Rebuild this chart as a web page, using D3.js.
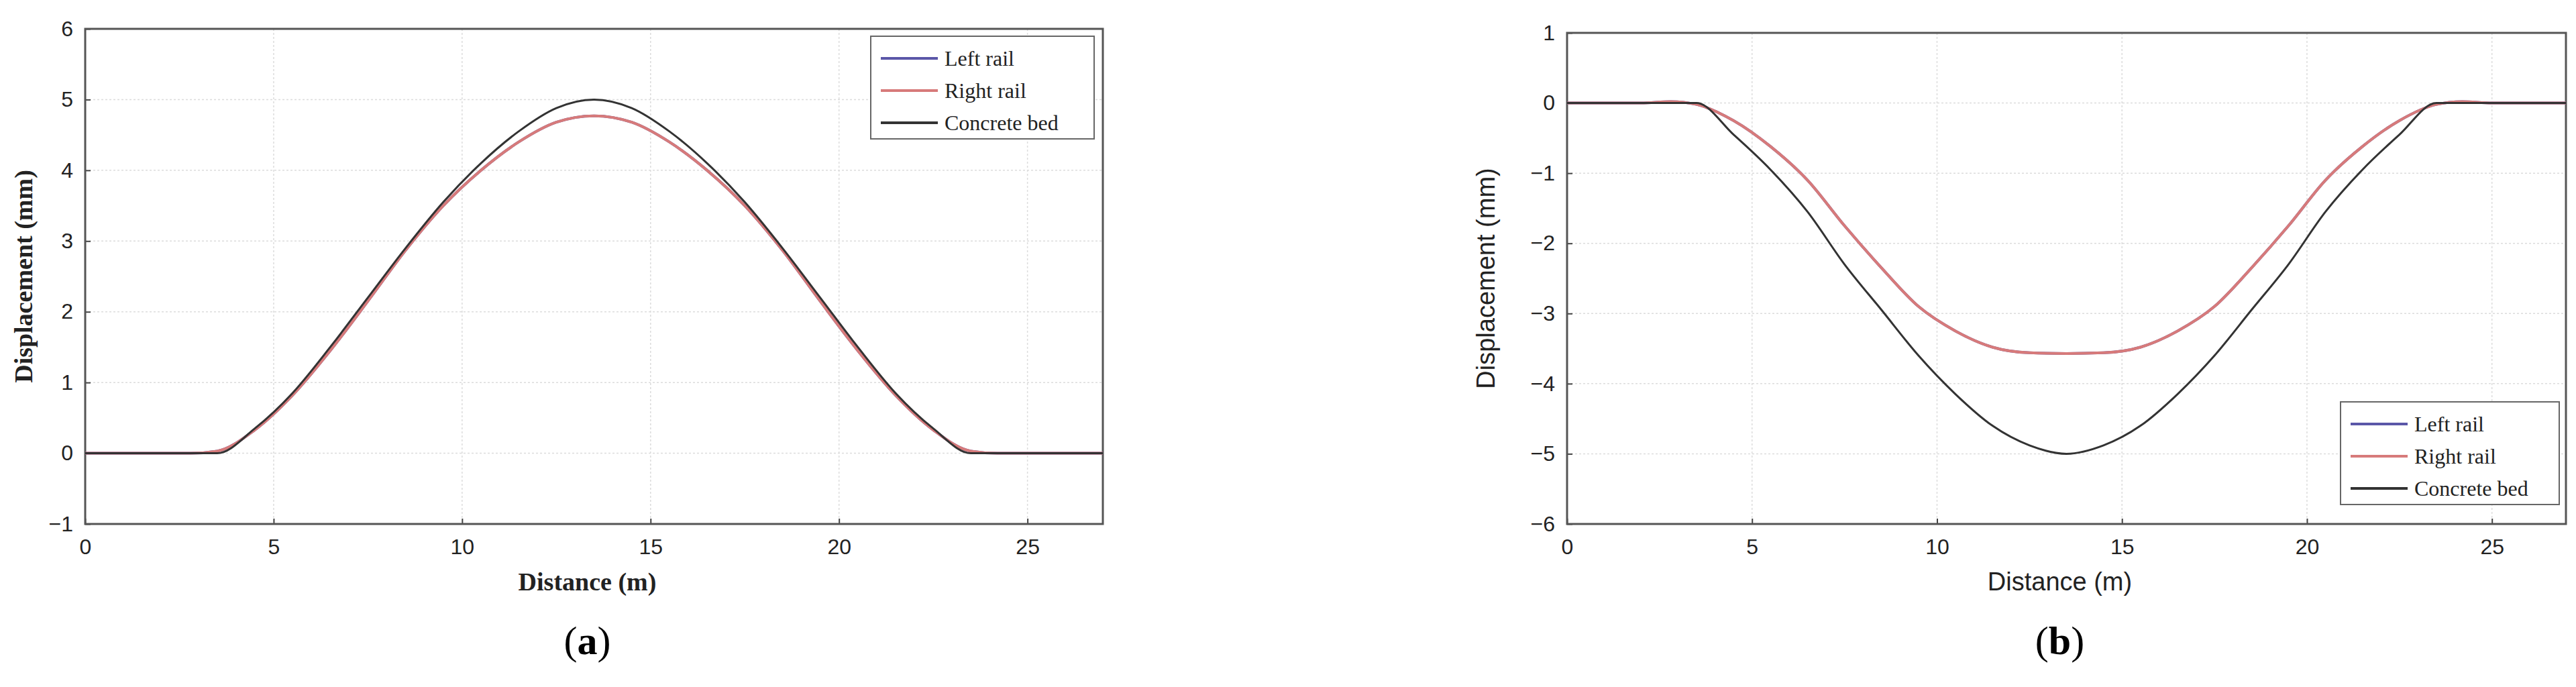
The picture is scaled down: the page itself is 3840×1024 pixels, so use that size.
<!DOCTYPE html>
<html>
<head>
<meta charset="utf-8">
<script src="https://cdn.jsdelivr.net/npm/d3@7"></script>
<style>
  body { margin: 0; background: #fff; }
  svg { display: block; }
</style>
</head>
<body>
<div id="chart"></div>
<script>
// distances (m)
const xBed = [0, 1, 2, 3, 3.5, 4.5, 5.5, 6.5, 7.5, 8.5, 9.5, 10.5, 11.5, 12.5, 13.5,
  14.5, 15.5, 16.5, 17.5, 18.5, 19.5, 20.5, 21.5, 22.5, 23.5, 24, 25, 26, 27];
const xRail = [0, 1, 2, 2.8, 3.5, 4.5, 5.5, 6.5, 7.5, 8.5, 9.5, 10.5, 11.5, 12.5, 13.5,
  14.5, 15.5, 16.5, 17.5, 18.5, 19.5, 20.5, 21.5, 22.5, 23.5, 24.2, 25, 26, 27];

// panel (a)
const bedA = [0, 0, 0, 0, 0, 0.35, 0.85, 1.5, 2.2, 2.9, 3.55, 4.1, 4.55, 4.88, 5.0,
  4.88, 4.55, 4.1, 3.55, 2.9, 2.2, 1.5, 0.85, 0.35, 0, 0, 0, 0, 0];
const leftA = [0, 0, 0, 0, 0.03, 0.33, 0.82, 1.45, 2.15, 2.87, 3.5, 4.0, 4.4, 4.68, 4.77,
  4.68, 4.4, 4.0, 3.5, 2.87, 2.15, 1.45, 0.82, 0.33, 0.03, 0, 0, 0, 0];
const rightA = [0, 0, 0, 0, 0.03, 0.33, 0.82, 1.45, 2.15, 2.87, 3.5, 4.0, 4.4, 4.68, 4.77,
  4.68, 4.4, 4.0, 3.5, 2.87, 2.15, 1.45, 0.82, 0.33, 0.03, 0, 0, 0, 0];

// panel (b)
const bedB = [0, 0, 0, 0, 0, -0.45, -0.95, -1.55, -2.3, -2.95, -3.6, -4.15, -4.6, -4.88, -5.0,
  -4.88, -4.6, -4.15, -3.6, -2.95, -2.3, -1.55, -0.95, -0.45, 0, 0, 0, 0, 0];
const leftB = [0, 0, 0, 0.02, -0.02, -0.25, -0.62, -1.1, -1.75, -2.35, -2.9, -3.25, -3.48, -3.56, -3.57,
  -3.56, -3.48, -3.25, -2.9, -2.35, -1.75, -1.1, -0.62, -0.25, -0.02, 0.02, 0, 0, 0];
const rightB = [0, 0, 0, 0.02, -0.02, -0.25, -0.62, -1.1, -1.75, -2.35, -2.9, -3.25, -3.48, -3.56, -3.57,
  -3.56, -3.48, -3.25, -2.9, -2.35, -1.75, -1.1, -0.62, -0.25, -0.02, 0.02, 0, 0, 0];

const xTicks = [0, 5, 10, 15, 20, 25];
const yTicksA = [-1, 0, 1, 2, 3, 4, 5, 6];
const yTicksB = [-6, -5, -4, -3, -2, -1, 0, 1];
const seriesNames = ["Left rail", "Right rail", "Concrete bed"];
const seriesColors = ["#5b57a8", "#d77a7a", "#333333"];

const svg = d3.select("#chart").append("svg")
  .attr("width", 3840).attr("height", 1024);

function drawPanel(p) {
  const x = d3.scaleLinear().domain([0, 27]).range([p.left, p.right]);
  const y = d3.scaleLinear().domain(p.yDomain).range([p.bottom, p.top]);
  const g = svg.append("g");

  // grid
  g.selectAll(".gx").data(xTicks.slice(1)).join("line")
    .attr("x1", d => x(d)).attr("x2", d => x(d))
    .attr("y1", p.top).attr("y2", p.bottom)
    .attr("stroke", "#dcdcdc").attr("stroke-width", 1.5).attr("stroke-dasharray", "3,3");
  g.selectAll(".gy").data(p.yTicks.slice(1, -1)).join("line")
    .attr("x1", p.left).attr("x2", p.right)
    .attr("y1", d => y(d)).attr("y2", d => y(d))
    .attr("stroke", "#dcdcdc").attr("stroke-width", 1.5).attr("stroke-dasharray", "3,3");

  // axes
  const ax = g.append("g").attr("transform", `translate(0,${p.bottom})`)
    .call(d3.axisBottom(x).tickValues(xTicks).tickSize(-8).tickPadding(22));
  const ay = g.append("g").attr("transform", `translate(${p.left},0)`)
    .call(d3.axisLeft(y).tickValues(p.yTicks).tickSize(-8).tickPadding(18).tickFormat(d3.format("")));
  [ax, ay].forEach(a => {
    a.select(".domain").remove();
    a.selectAll("line").attr("stroke", "#444").attr("stroke-width", 2);
    a.selectAll("text").attr("font-family", "Liberation Sans Narrow, Liberation Sans, sans-serif")
      .attr("font-size", 32).attr("fill", "#222");
  });

  // frame
  g.append("rect").attr("x", p.left).attr("y", p.top)
    .attr("width", p.right - p.left).attr("height", p.bottom - p.top)
    .attr("fill", "none").attr("stroke", "#555").attr("stroke-width", 3);

  // lines
  const line = d3.line().x(d => x(d[0])).y(d => y(d[1])).curve(d3.curveMonotoneX);
  const sets = [[xRail, p.left_], [xRail, p.right_], [xBed, p.bed]];
  sets.forEach((s, i) => {
    g.append("path").datum(s[0].map((v, k) => [v, s[1][k]]))
      .attr("fill", "none").attr("stroke", seriesColors[i])
      .attr("stroke-width", i === 2 ? 3 : 4).attr("d", line);
  });

  // legend
  const lg = g.append("g");
  lg.append("rect").attr("x", p.lg[0]).attr("y", p.lg[1]).attr("width", p.lg[2]).attr("height", p.lg[3])
    .attr("fill", "#fff").attr("stroke", "#666").attr("stroke-width", 2);
  seriesNames.forEach((n, i) => {
    const yy = p.lg[1] + 33 + i * 48;
    lg.append("line").attr("x1", p.lg[0] + 15).attr("x2", p.lg[0] + 100)
      .attr("y1", yy).attr("y2", yy).attr("stroke", seriesColors[i]).attr("stroke-width", 4);
    lg.append("text").attr("x", p.lg[0] + 110).attr("y", yy + 11)
      .attr("font-family", "Liberation Serif, serif").attr("font-size", 32).attr("fill", "#222").text(n);
  });

  // labels
  g.append("text").attr("x", (p.left + p.right) / 2 - 10).attr("y", 880)
    .attr("text-anchor", "middle").attr("font-family", p.labelFont)
    .attr("font-weight", p.labelWeight).attr("font-size", 38).attr("fill", "#222").text("Distance (m)");
  g.append("text").attr("transform", `translate(${p.yLabelX},${(p.top + p.bottom) / 2}) rotate(-90)`)
    .attr("text-anchor", "middle").attr("font-family", p.labelFont)
    .attr("font-weight", p.labelWeight).attr("font-size", 38).attr("fill", "#222").text("Displacement (mm)");

  const cap = g.append("text").attr("x", (p.left + p.right) / 2 - 10).attr("y", 975)
    .attr("text-anchor", "middle").attr("font-family", "Liberation Serif, serif")
    .attr("font-size", 60).attr("fill", "#000");
  cap.append("tspan").text("(");
  cap.append("tspan").attr("font-weight", "bold").text(p.caption);
  cap.append("tspan").text(")");
}

drawPanel({
  left: 127, right: 1644, top: 43, bottom: 781, yDomain: [-1, 6], yTicks: yTicksA,
  bed: bedA, left_: leftA, right_: rightA, lg: [1298, 54, 333, 153],
  labelFont: "Liberation Serif, serif", labelWeight: "bold", yLabelX: 48, caption: "a"
});
drawPanel({
  left: 2336, right: 3825, top: 49, bottom: 781, yDomain: [-6, 1], yTicks: yTicksB,
  bed: bedB, left_: leftB, right_: rightB, lg: [3489, 599, 326, 153],
  labelFont: "Liberation Sans, Arial, sans-serif", labelWeight: "normal", yLabelX: 2228, caption: "b"
});
</script>
</body>
</html>
